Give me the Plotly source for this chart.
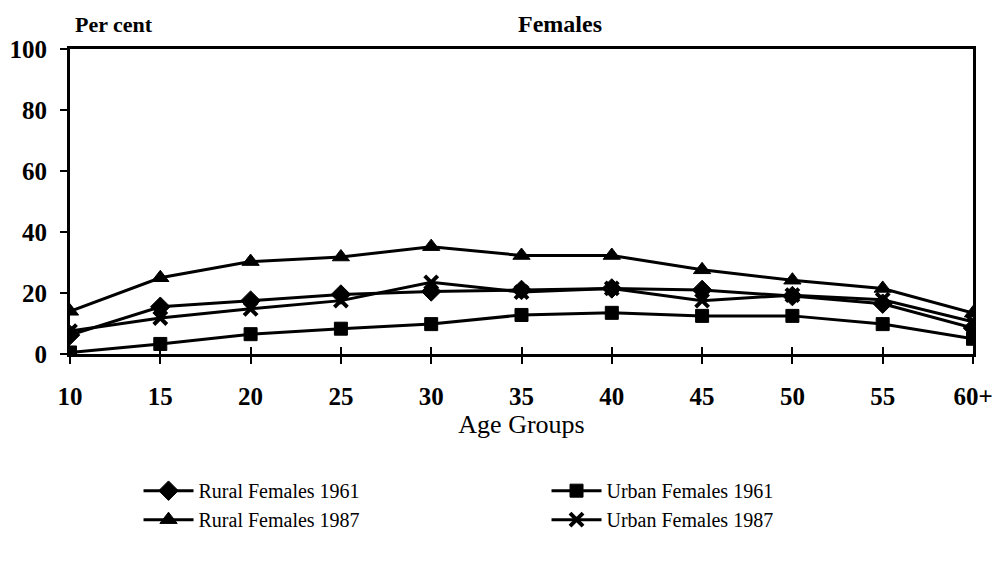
import plotly.graph_objects as go

age_groups = ["10", "15", "20", "25", "30", "35", "40", "45", "50", "55", "60+"]

rural_1961 = [6.2, 15.5, 17.5, 19.5, 20.5, 21, 21.5, 21, 19, 16.5, 8.5]
urban_1961 = [0.5, 3.3, 6.5, 8.3, 9.8, 12.8, 13.5, 12.5, 12.5, 9.8, 5]
rural_1987 = [14, 25, 30.3, 31.8, 35.2, 32.3, 32.3, 27.6, 24.2, 21.5, 13.4]
urban_1987 = [7.5, 11.8, 14.8, 17.5, 23.5, 20.3, 21.5, 17.5, 19.3, 17.8, 10.6]

xpos = list(range(len(age_groups)))

serif = "Liberation Serif"

fig = go.Figure()

def add_series(name, vals, symbol, size):
    fig.add_trace(go.Scatter(
        x=xpos, y=vals, name=name, mode="lines+markers",
        line=dict(color="black", width=3),
        marker=dict(symbol=symbol, size=size, color="black",
                    line=dict(color="black", width=1)),
    ))

add_series("Rural Females 1961", rural_1961, "diamond", 15)
add_series("Urban Females 1961", urban_1961, "square", 13)
add_series("Rural Females 1987", rural_1987, "triangle-up", 15)
add_series("Urban Females 1987", urban_1987, "x-thin", 13)
fig.data[3].marker.line.width = 4

# the page body has an 8px default margin, so margins are shifted by that
fig.update_layout(
    width=1004, height=569,
    margin=dict(l=62, r=39, t=41, b=223, autoexpand=False),
    plot_bgcolor="white", paper_bgcolor="white",
    font=dict(family=serif, color="black", size=20),
    showlegend=True,
    legend=dict(
        orientation="h", x=0.13, y=0.186, xref="container", yref="container",
        xanchor="left", yanchor="top",
        entrywidth=343, tracegroupgap=0, itemwidth=50,
        font=dict(family=serif, size=20, color="black"),
    ),
    xaxis=dict(
        range=[0, len(age_groups) - 1],
        tickvals=xpos, ticktext=age_groups,
        showgrid=False, zeroline=False,
        showline=True, linecolor="black", linewidth=3, mirror=True,
        ticks="outside", ticklen=7, tickwidth=2, tickcolor="black",
        ticklabelstandoff=11,
        tickfont=dict(family=serif, size=25, weight="bold"),
        title=dict(text="Age Groups", font=dict(family=serif, size=26), standoff=4),
    ),
    xaxis2=dict(
        overlaying="x", matches="x", range=[0, len(age_groups) - 1],
        tickvals=xpos, showticklabels=False, showgrid=False, zeroline=False,
        ticks="inside", ticklen=7, tickwidth=2, tickcolor="black",
    ),
    yaxis=dict(
        range=[0, 100], tickvals=[0, 20, 40, 60, 80, 100],
        showgrid=False, zeroline=False,
        showline=True, linecolor="black", linewidth=3, mirror=True,
        ticks="outside", ticklen=7, tickwidth=2, tickcolor="black",
        ticklabelstandoff=8,
        tickfont=dict(family=serif, size=25, weight="bold"),
    ),
    annotations=[
        dict(text="Per cent", xref="paper", yref="paper", x=0.004, y=1.035,
             xanchor="left", yanchor="bottom", showarrow=False, borderpad=0,
             font=dict(family=serif, size=22, weight="bold")),
        dict(text="Females", xref="paper", yref="paper", x=0.543, y=1.035,
             xanchor="center", yanchor="bottom", showarrow=False, borderpad=0,
             font=dict(family=serif, size=24, weight="bold")),
    ],
)

# invisible trace so the inside ticks of xaxis2 render
fig.add_trace(go.Scatter(x=[0], y=[0], xaxis="x2", mode="markers",
                         marker=dict(opacity=0), showlegend=False, hoverinfo="skip"))

fig.write_html("out.html")
